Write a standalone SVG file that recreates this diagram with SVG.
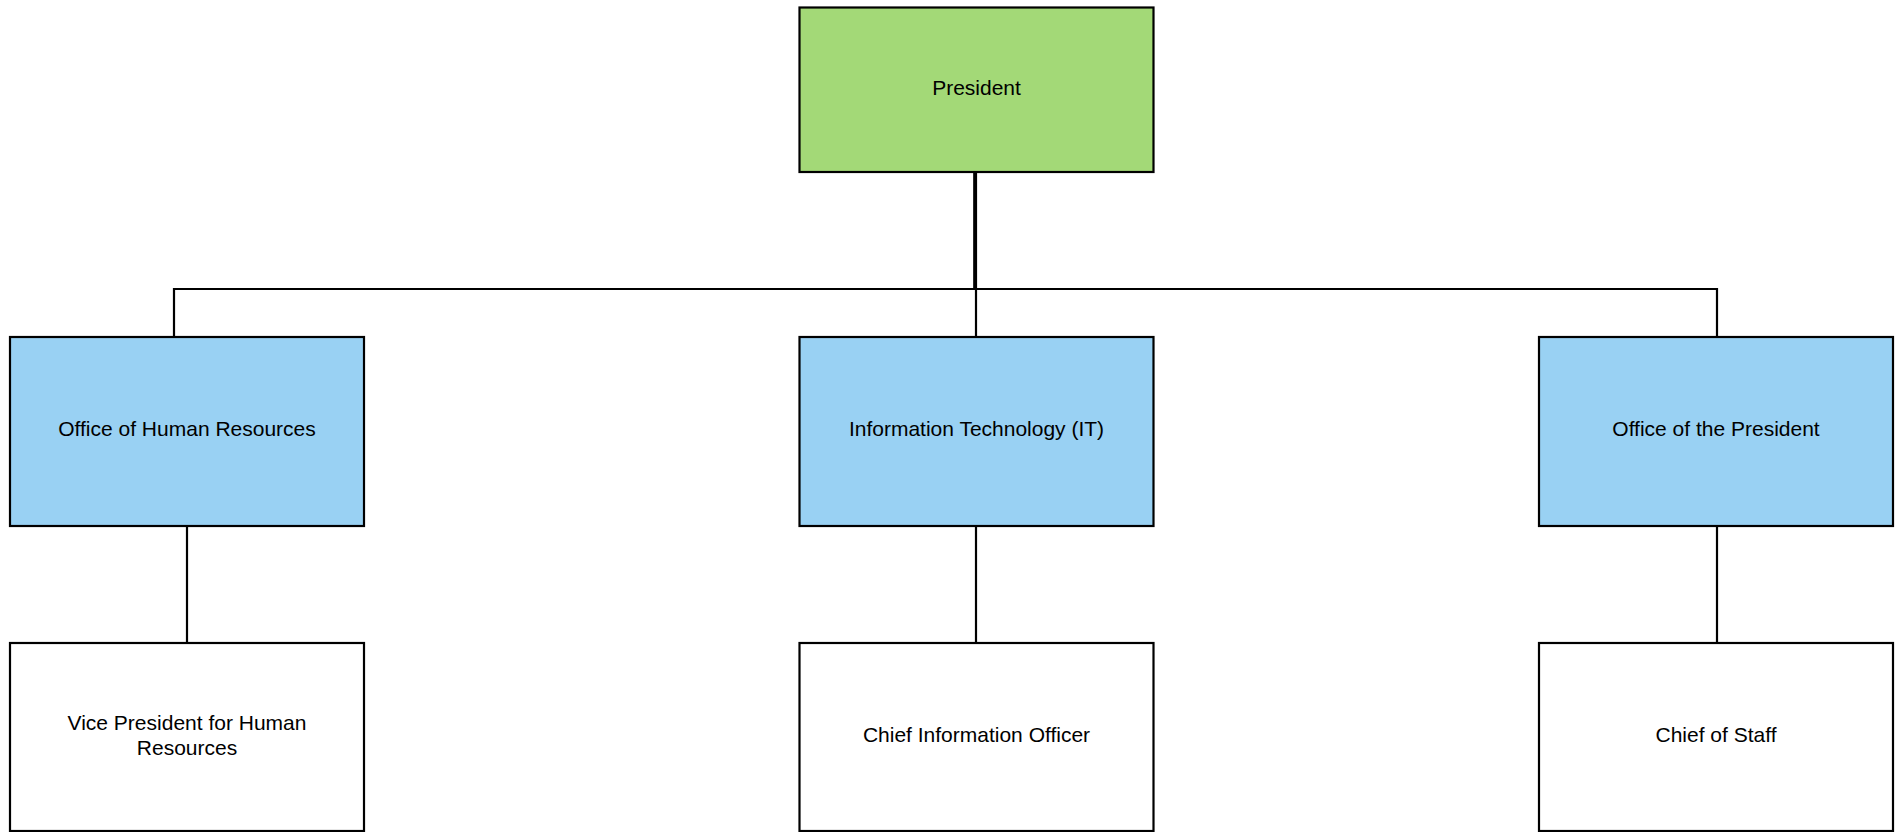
<svg xmlns="http://www.w3.org/2000/svg" width="1903" height="832" viewBox="0 0 1903 832">
<style>
.box{stroke:#000;stroke-width:2.2}
.top{fill:#a3d977}
.mid{fill:#99d1f3}
.leaf{fill:#fff}
.lbl{font-family:"Liberation Sans",Arial,sans-serif;font-size:21px;fill:#000;text-anchor:middle}
.conn{fill:none;stroke:#000;stroke-width:2.2}
</style>
<rect width="1903" height="832" fill="#fff"/>
<g id="connectors">
<path class="conn" d="M974.5 172 V289 H174 V337"/>
<path class="conn" d="M974.5 172 V289 H1717 V337"/>
<path class="conn" d="M976 172 V337"/>
<path class="conn" d="M187 526 V643"/>
<path class="conn" d="M976 526 V643"/>
<path class="conn" d="M1717 526 V643"/>
</g>
<g id="president">
<rect class="box top" x="799.5" y="7.5" width="354" height="164.5"/>
<text class="lbl" x="976.5" y="94.5">President</text>
</g>
<g id="office-hr">
<rect class="box mid" x="10" y="337" width="354" height="189"/>
<text class="lbl" x="187" y="436">Office of Human Resources</text>
</g>
<g id="it">
<rect class="box mid" x="799.5" y="337" width="354" height="189"/>
<text class="lbl" x="976.5" y="436">Information Technology (IT)</text>
</g>
<g id="office-president">
<rect class="box mid" x="1539" y="337" width="354" height="189"/>
<text class="lbl" x="1716" y="436">Office of the President</text>
</g>
<g id="vp-hr">
<rect class="box leaf" x="10" y="643" width="354" height="188"/>
<text class="lbl" x="187" y="729.5">Vice President for Human</text>
<text class="lbl" x="187" y="754.5">Resources</text>
</g>
<g id="cio">
<rect class="box leaf" x="799.5" y="643" width="354" height="188"/>
<text class="lbl" x="976.5" y="742">Chief Information Officer</text>
</g>
<g id="chief-staff">
<rect class="box leaf" x="1539" y="643" width="354" height="188"/>
<text class="lbl" x="1716" y="742">Chief of Staff</text>
</g>
</svg>
